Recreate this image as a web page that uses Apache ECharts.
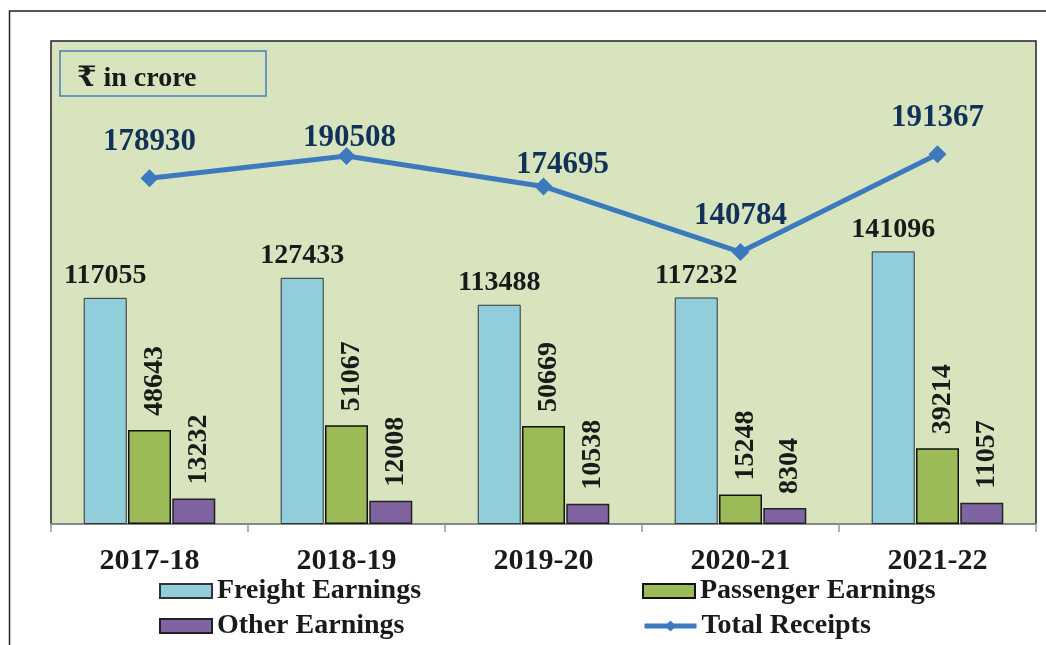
<!DOCTYPE html>
<html>
<head>
<meta charset="utf-8">
<script src="https://cdn.jsdelivr.net/npm/echarts@6/dist/echarts.min.js"></script>
<style>
  html, body { margin: 0; padding: 0; background: #fff; }
  #chart { width: 1046px; height: 645px; }
</style>
</head>
<body>
<div id="chart"></div>
<script>
  // Earnings by year, Rs in crore
  const years = ["2017-18", "2018-19", "2019-20", "2020-21", "2021-22"];
  const freightEarnings = [117055, 127433, 113488, 117232, 141096];
  const passengerEarnings = [48643, 51067, 50669, 15248, 39214];
  const otherEarnings = [13232, 12008, 10538, 8304, 11057];
  const totalReceipts = [178930, 190508, 174695, 140784, 191367];

  const SERIF = '"Times New Roman", "Liberation Serif", "DejaVu Serif", serif';

  const chart = echarts.init(document.getElementById("chart"));

  // vertical labels; offset is in the rotated frame, so [0, n] nudges right
  const barLabelRotated = {
    show: true,
    position: "top",
    rotate: 90,
    align: "left",
    verticalAlign: "middle",
    distance: 14,
    offset: [0, 5],
    fontFamily: SERIF,
    fontWeight: "bold",
    fontSize: 28,
    color: "#1a1a1a"
  };

  const legendText = {
    fontFamily: SERIF,
    fontWeight: "bold",
    fontSize: 28,
    color: "#1a1a1a"
  };

  function legendAt(name, left, top) {
    return {
      data: [{ name: name, icon: name === "Total Receipts" ? undefined : "rect" }],
      left: left,
      top: top,
      padding: 0,
      itemWidth: 52,
      itemHeight: 14,
      textStyle: legendText,
      lineStyle: { width: 5 },
      selectedMode: false
    };
  }

  // a couple of the total labels sit closer to their markers in the original
  const totalLabelShift = { 1: [3, 19], 2: [19, 15] };
  const totalData = totalReceipts.map((v, i) => {
    const shift = totalLabelShift[i];
    return shift ? { value: v, label: { offset: shift } } : v;
  });

  chart.setOption({
    animation: false,
    graphic: [
      {
        type: "rect",
        shape: { x: 9.5, y: 11, width: 1060, height: 660 },
        style: { fill: "none", stroke: "#222", lineWidth: 1.5 },
        z: -10
      },
      {
        type: "rect",
        shape: { x: 60, y: 51, width: 206, height: 45 },
        style: { fill: "none", stroke: "#4a7ebb", lineWidth: 1.5 },
        z: 10
      },
      {
        type: "text",
        z: 10,
        style: {
          x: 77,
          y: 79,
          text: "₹ in crore",
          verticalAlign: "middle",
          font: 'bold 28px ' + SERIF,
          fill: "#1a1a1a"
        }
      }
    ],
    grid: {
      left: 51,
      top: 41,
      right: 10,
      bottom: 121,
      show: true,
      backgroundColor: "#d7e4bd",
      borderColor: "#222",
      borderWidth: 1.5
    },
    legend: [
      legendAt("Freight Earnings", 159, 577),
      legendAt("Passenger Earnings", 642, 577),
      legendAt("Other Earnings", 159, 612),
      legendAt("Total Receipts", 642, 612)
    ],
    xAxis: {
      type: "category",
      data: years,
      axisLine: { lineStyle: { color: "#999", width: 1.5 } },
      axisTick: { show: true, length: 8, lineStyle: { color: "#999", width: 1.5 } },
      axisLabel: {
        margin: 22,
        fontFamily: SERIF,
        fontWeight: "bold",
        fontSize: 30,
        color: "#1a1a1a"
      }
    },
    yAxis: {
      type: "value",
      min: 0,
      max: 250000,
      show: false,
      splitLine: { show: false }
    },
    series: [
      {
        name: "Freight Earnings",
        type: "bar",
        data: freightEarnings,
        barWidth: 43,
        barGap: "3%",
        itemStyle: { color: "#92cddc", borderColor: "#333", borderWidth: 1 },
        label: {
          show: true,
          position: "top",
          distance: 8,
          fontFamily: SERIF,
          fontWeight: "bold",
          fontSize: 28,
          color: "#1a1a1a"
        }
      },
      {
        name: "Passenger Earnings",
        type: "bar",
        data: passengerEarnings,
        barWidth: 43,
        itemStyle: { color: "#9bbb59", borderColor: "#111", borderWidth: 1.5 },
        label: barLabelRotated
      },
      {
        name: "Other Earnings",
        type: "bar",
        data: otherEarnings,
        barWidth: 43,
        itemStyle: { color: "#8064a2", borderColor: "#222", borderWidth: 1.5 },
        label: barLabelRotated
      },
      {
        name: "Total Receipts",
        type: "line",
        data: totalData,
        z: 5,
        symbol: "diamond",
        symbolSize: 18,
        lineStyle: { color: "#3d79bf", width: 5 },
        itemStyle: { color: "#3d79bf" },
        label: {
          show: true,
          position: "top",
          distance: 12,
          fontFamily: SERIF,
          fontWeight: "bold",
          fontSize: 31,
          color: "#11315a"
        }
      }
    ]
  });
</script>
</body>
</html>
